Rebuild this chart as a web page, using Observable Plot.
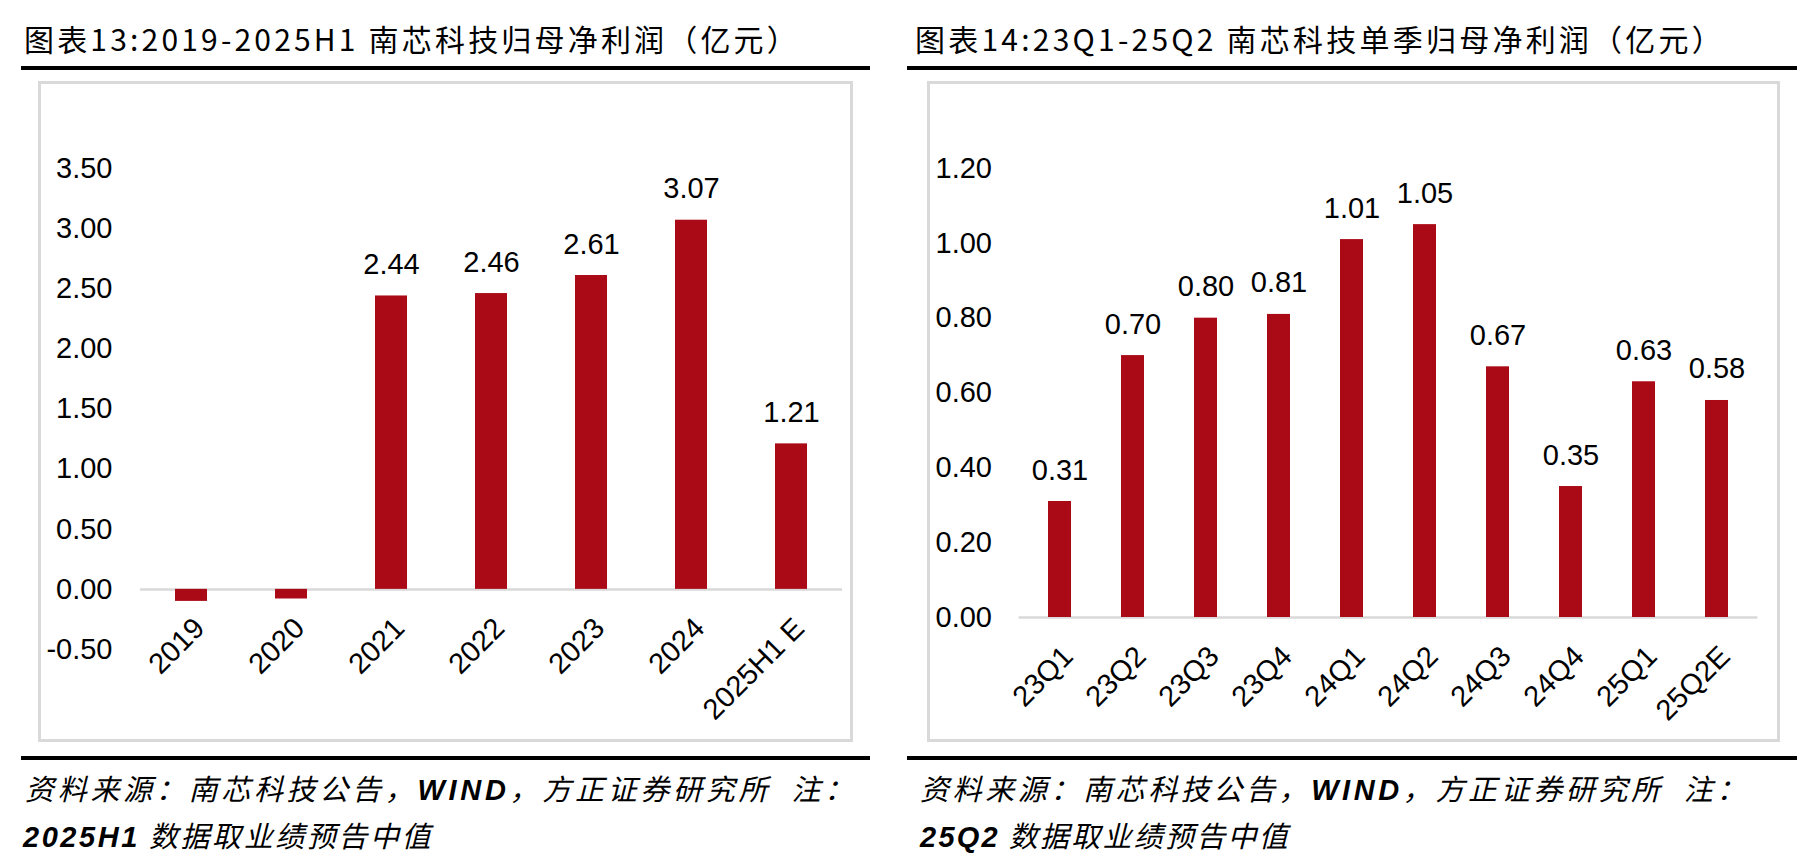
<!DOCTYPE html>
<html><head><meta charset="utf-8">
<script src="https://cdn.jsdelivr.net/npm/d3@7"></script>
<script src="https://cdn.jsdelivr.net/npm/@observablehq/plot@0.6"></script>
<style>
body{margin:0;background:#fff;}
#page{position:relative;width:1806px;height:864px;overflow:hidden;background:#fff;font-family:"Noto Sans CJK SC",sans-serif;color:#000;}
.title{position:absolute;font-size:30px;line-height:30px;white-space:nowrap;}
.rule{position:absolute;background:#000;height:4px;}
.box{position:absolute;border:3px solid #d9d9d9;box-sizing:border-box;}
.chart{position:absolute;}
.note{position:absolute;font-size:29px;line-height:47px;font-style:italic;white-space:nowrap;}
.note b{font-family:"Liberation Sans",Arial,sans-serif;font-weight:bold;}
</style></head>
<body><div id="page">
<div class="title fit" data-w="776" style="left:24px;top:23px">图表13:2019-2025H1 南芯科技归母净利润（亿元）</div>
<div class="title fit" data-w="810" style="left:915px;top:23px">图表14:23Q1-25Q2 南芯科技单季归母净利润（亿元）</div>
<div class="rule" style="left:21px;top:66px;width:849px"></div>
<div class="rule" style="left:907px;top:66px;width:890px"></div>
<div class="box" style="left:38px;top:81px;width:815px;height:661px"></div>
<div class="box" style="left:927px;top:81px;width:853px;height:661px"></div>
<div class="chart" id="c1" style="left:39px;top:82px"></div>
<div class="chart" id="c2" style="left:928px;top:82px"></div>
<div class="rule" style="left:21px;top:756px;width:849px"></div>
<div class="rule" style="left:907px;top:756px;width:890px"></div>
<div class="note fit" data-w="832" style="left:25px;top:764px">资料来源：南芯科技公告，<b>WIND</b>，方正证券研究所&nbsp;&nbsp;注：</div>
<div class="note fit" data-w="410" style="left:23px;top:811px"><b>2025H1</b> 数据取业绩预告中值</div>
<div class="note fit" data-w="829" style="left:920px;top:764px">资料来源：南芯科技公告，<b>WIND</b>，方正证券研究所&nbsp;&nbsp;注：</div>
<div class="note fit" data-w="370" style="left:920px;top:811px"><b>25Q2</b> 数据取业绩预告中值</div>
</div>
<script>
// Data
const years = ["2019", "2020", "2021", "2022", "2023", "2024", "2025H1 E"];
const annualProfit = [-0.10, -0.08, 2.44, 2.46, 2.61, 3.07, 1.21];
const annualTicks = [-0.5, 0, 0.5, 1.0, 1.5, 2.0, 2.5, 3.0, 3.5];

const quarters = ["23Q1", "23Q2", "23Q3", "23Q4", "24Q1", "24Q2", "24Q3", "24Q4", "25Q1", "25Q2E"];
const quarterProfit = [0.31, 0.70, 0.80, 0.81, 1.01, 1.05, 0.67, 0.35, 0.63, 0.58];
const quarterTicks = [0, 0.2, 0.4, 0.6, 0.8, 1.0, 1.2];

const BAR = "#AA0A16";

function makeChart(cats, vals, ticks, o) {
  const data = cats.map((c, i) => ({cat: c, v: vals[i]}));
  return Plot.plot({
    width: o.width, height: o.height,
    marginLeft: o.ml, marginRight: o.mr, marginTop: o.mt, marginBottom: o.mb,
    style: {fontFamily: "'Liberation Sans', Arial, sans-serif", fontSize: "29px", background: "transparent", overflow: "visible", color: "#000"},
    x: {domain: cats, paddingInner: o.pad, paddingOuter: o.pad / 2, axis: null},
    y: {domain: [ticks[0], ticks[ticks.length - 1]], axis: null},
    marks: [
      Plot.ruleY([0], {stroke: "#d9d9d9", strokeWidth: 2.5}),
      Plot.barY(data, {x: "cat", y: "v", fill: BAR}),
      Plot.text(data.filter(d => d.v > 0), {x: "cat", y: "v", text: d => d.v.toFixed(2), dy: -22, lineAnchor: "bottom", fontSize: 29, fill: "#000"}),
      Plot.text(cats, {x: d => d, y: () => 0, text: d => d, rotate: -45, textAnchor: "end", lineAnchor: "middle", dx: 8, dy: 34, fontSize: 29, fill: "#000"}),
      Plot.axisY(ticks, {label: null, tickSize: 0, tickPadding: o.tp, tickFormat: d => d.toFixed(2), fontSize: 29})
    ]
  });
}

document.getElementById("c1").appendChild(makeChart(years, annualProfit, annualTicks,
  {width: 812, height: 658, ml: 101, mr: 9, mt: 86, mb: 91, pad: 0.68, tp: 28}));
document.getElementById("c2").appendChild(makeChart(quarters, quarterProfit, quarterTicks,
  {width: 850, height: 658, ml: 90.5, mr: 20.5, mt: 86, mb: 123, pad: 0.69, tp: 27}));

// fit text widths to the reference
document.querySelectorAll(".fit").forEach(el => {
  const target = +el.dataset.w;
  const n = el.textContent.length;
  const w = el.getBoundingClientRect().width;
  el.style.letterSpacing = ((target - w) / n) + "px";
});
</script>
</body></html>
